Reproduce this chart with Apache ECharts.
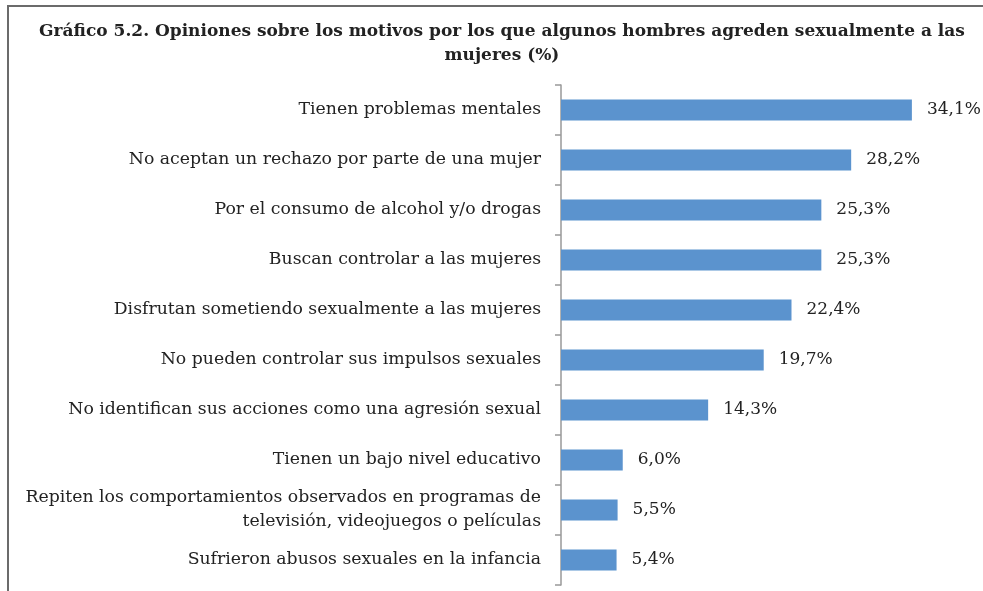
<!DOCTYPE html>
<html><head><meta charset="utf-8">
<script src="https://cdn.jsdelivr.net/npm/echarts@6/dist/echarts.min.js"></script>
<style>
html,body{margin:0;padding:0;background:#fff;}
#frame{position:absolute;left:7px;top:5px;width:976px;height:586px;border-top:2px solid #6b6b6b;border-left:2px solid #6b6b6b;box-sizing:border-box;}
#c{position:absolute;left:0;top:0;width:983px;height:591px;}
</style></head>
<body>
<div id="frame"></div>
<div id="c"></div>
<script>
const titleText = 'Gráfico 5.2. Opiniones sobre los motivos por los que algunos hombres agreden sexualmente a las\nmujeres (%)';
const categories = [
  'Tienen problemas mentales',
  'No aceptan un rechazo por parte de una mujer',
  'Por el consumo de alcohol y/o drogas',
  'Buscan controlar a las mujeres',
  'Disfrutan sometiendo sexualmente a las mujeres',
  'No pueden controlar sus impulsos sexuales',
  'No identifican sus acciones como una agresión sexual',
  'Tienen un bajo nivel educativo',
  'Repiten los comportamientos observados en programas de\ntelevisión, videojuegos o películas',
  'Sufrieron abusos sexuales en la infancia'
];
const values = [34.1, 28.2, 25.3, 25.3, 22.4, 19.7, 14.3, 6.0, 5.5, 5.4];

const chart = echarts.init(document.getElementById('c'), null, {renderer:'canvas'});
chart.setOption({
  animation:false,
  backgroundColor:'transparent',
  title:{
    text:titleText,
    left:497, top:15, textAlign:'center',
    textStyle:{fontFamily:'DejaVu Serif', fontWeight:'bold', fontSize:17, color:'#222', lineHeight:24}
  },
  grid:{left:561, top:85, width:411.6, height:500, containLabel:false},
  xAxis:{type:'value', min:0, max:40, show:false},
  yAxis:{
    type:'category', data:categories, inverse:true,
    axisLine:{show:true, lineStyle:{color:'#999', width:1.5}},
    axisTick:{show:true, length:6, lineStyle:{color:'#999', width:1.5}},
    axisLabel:{margin:20, fontFamily:'DejaVu Serif', fontSize:17.3, color:'#222', lineHeight:24, align:'right'}
  },
  series:[{
    type:'bar', data:values, barWidth:21,
    itemStyle:{color:'#5b93ce'},
    label:{show:true, position:'right', distance:15, fontFamily:'DejaVu Serif', fontSize:17, color:'#222',
      formatter:p=>p.value.toFixed(1).replace('.',',')+'%'}
  }]
});
</script>
</body></html>
